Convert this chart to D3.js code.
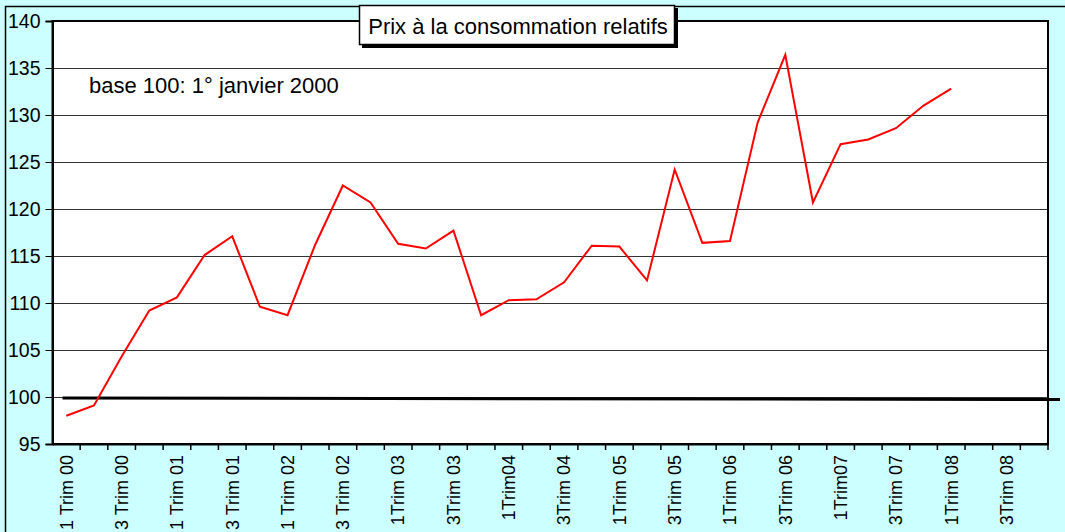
<!DOCTYPE html>
<html>
<head>
<meta charset="utf-8">
<script src="https://cdn.jsdelivr.net/npm/d3@7"></script>
<style>
body { margin: 0; background: #ccffff; }
text { font-family: "Liberation Sans", Arial, sans-serif; fill: #000; }
</style>
</head>
<body>
<div class="chart"></div>
<script>
// data
var categories = ["2000T1","2000T2","2000T3","2000T4","2001T1","2001T2","2001T3","2001T4",
  "2002T1","2002T2","2002T3","2002T4","2003T1","2003T2","2003T3","2003T4",
  "2004T1","2004T2","2004T3","2004T4","2005T1","2005T2","2005T3","2005T4",
  "2006T1","2006T2","2006T3","2006T4","2007T1","2007T2","2007T3","2007T4",
  "2008T1","2008T2","2008T3","2008T4"];
var prices = [98.0, 99.1, 104.3, 109.2, 110.6, 115.1, 117.1, 109.6,
  108.7, 116.2, 122.5, 120.7, 116.3, 115.8, 117.7, 108.7,
  110.3, 110.4, 112.2, 116.1, 116.0, 112.4, 124.2, 116.4,
  116.6, 129.2, 136.4, 120.7, 126.9, 127.4, 128.6, 131.0, 132.8];
var tickLabels = ["1 Trim 00","3 Trim 00","1 Trim 01","3 Trim 01","1 Trim 02","3 Trim 02",
  "1Trim 03","3Trim 03","1Trim04","3Trim 04","1Trim 05","3Trim 05","1Trim 06","3Trim 06",
  "1Trim07","3Trim 07","1Trim 08","3Trim 08"];
var yTicks = [95,100,105,110,115,120,125,130,135,140];
var baseValue = 100;

var svgWidth = 1065;
var svgHeight = 532;
var margin = {top: 21, right: 17, bottom: 88, left: 52.5};
var width = 1048 - margin.left;
var height = 444 - margin.top;

var svg = d3.select('.chart')
  .append('svg')
  .attr('width', svgWidth)
  .attr('height', svgHeight)
  .style('display', 'block');

// outer chart area border
svg.append('rect')
  .attr('x', 5.5).attr('y', 6.5)
  .attr('width', 1100).attr('height', 600)
  .attr('fill', '#ccffff')
  .attr('stroke', '#000')
  .attr('stroke-width', 1.5);

var chart = svg.append('g')
  .attr('transform', 'translate(' + margin.left + ',' + margin.top + ')');

var x = d3.scaleBand().domain(categories).range([0, width]);
var y = d3.scaleLinear().domain([95, 140]).range([height, 0]);

chart.append('rect')
  .attr('width', width).attr('height', height)
  .attr('fill', '#fff');

// gridlines
chart.selectAll('.grid')
  .data(yTicks.filter(function(d) { return d > 95 && d < 140; }))
  .enter().append('line')
  .attr('x1', 0).attr('x2', width)
  .attr('y1', function(d) { return Math.round(y(d)) + 0.5; })
  .attr('y2', function(d) { return Math.round(y(d)) + 0.5; })
  .attr('stroke', '#333')
  .attr('stroke-width', 1);

// plot border
chart.append('rect')
  .attr('width', width).attr('height', height)
  .attr('fill', 'none')
  .attr('stroke', '#000')
  .attr('stroke-width', 2);

// y axis
var leftAxis = d3.axisLeft(y).tickValues(yTicks).tickSize(7).tickPadding(5);
var gy = chart.append('g').call(leftAxis);
gy.select('.domain').attr('stroke-width', 2);
gy.selectAll('text').style('font-size', '19.5px').attr('font-family', null);

// x axis
var bottomAxis = d3.axisBottom(x)
  .tickValues(categories.filter(function(d, i) { return i % 2 === 0; }))
  .tickSize(0)
  .tickFormat(function(d) { return tickLabels[categories.indexOf(d) / 2]; });
var gx = chart.append('g')
  .attr('transform', 'translate(0,' + height + ')')
  .call(bottomAxis);
gx.select('.domain').attr('stroke-width', 2);
gx.selectAll('text')
  .attr('font-family', null)
  .style('font-size', '18px')
  .attr('text-anchor', 'end')
  .attr('transform', 'rotate(-90)')
  .attr('x', -11)
  .attr('y', 0)
  .attr('dy', '0.35em');

// category boundary ticks
chart.append('g').selectAll('line')
  .data(categories.slice(1))
  .enter().append('line')
  .attr('x1', function(d) { return x(d); })
  .attr('x2', function(d) { return x(d); })
  .attr('y1', height)
  .attr('y2', height + 6)
  .attr('stroke', '#000')
  .attr('stroke-width', 1.5);
chart.append('line')
  .attr('x1', width).attr('x2', width)
  .attr('y1', height).attr('y2', height + 6)
  .attr('stroke', '#000').attr('stroke-width', 1.5);

// base 100 line (drawn shape extending past the plot)
chart.append('line')
  .attr('x1', x(categories[0]) + 10)
  .attr('x2', width + 12)
  .attr('y1', y(baseValue) + 1)
  .attr('y2', y(baseValue) + 2.5)
  .attr('stroke', '#000')
  .attr('stroke-width', 3);

// price line
var line = d3.line()
  .x(function(d, i) { return x(categories[i]) + x.bandwidth() / 2; })
  .y(function(d) { return y(d); });
chart.append('path')
  .datum(prices)
  .attr('d', line)
  .attr('fill', 'none')
  .attr('stroke', '#ff0000')
  .attr('stroke-width', 2);

// annotation
svg.append('text')
  .attr('x', 89).attr('y', 93)
  .style('font-size', '22px')
  .text('base 100: 1° janvier 2000');

// title box
var title = svg.append('g');
title.append('rect')
  .attr('x', 362).attr('y', 8)
  .attr('width', 316).attr('height', 40)
  .attr('fill', '#000');
title.append('rect')
  .attr('x', 359.5).attr('y', 5.5)
  .attr('width', 315).attr('height', 39)
  .attr('fill', '#fff')
  .attr('stroke', '#000')
  .attr('stroke-width', 1.5);
title.append('text')
  .attr('x', 518).attr('y', 34)
  .attr('text-anchor', 'middle')
  .style('font-size', '22px')
  .text('Prix à la consommation relatifs');
</script>
</body>
</html>
